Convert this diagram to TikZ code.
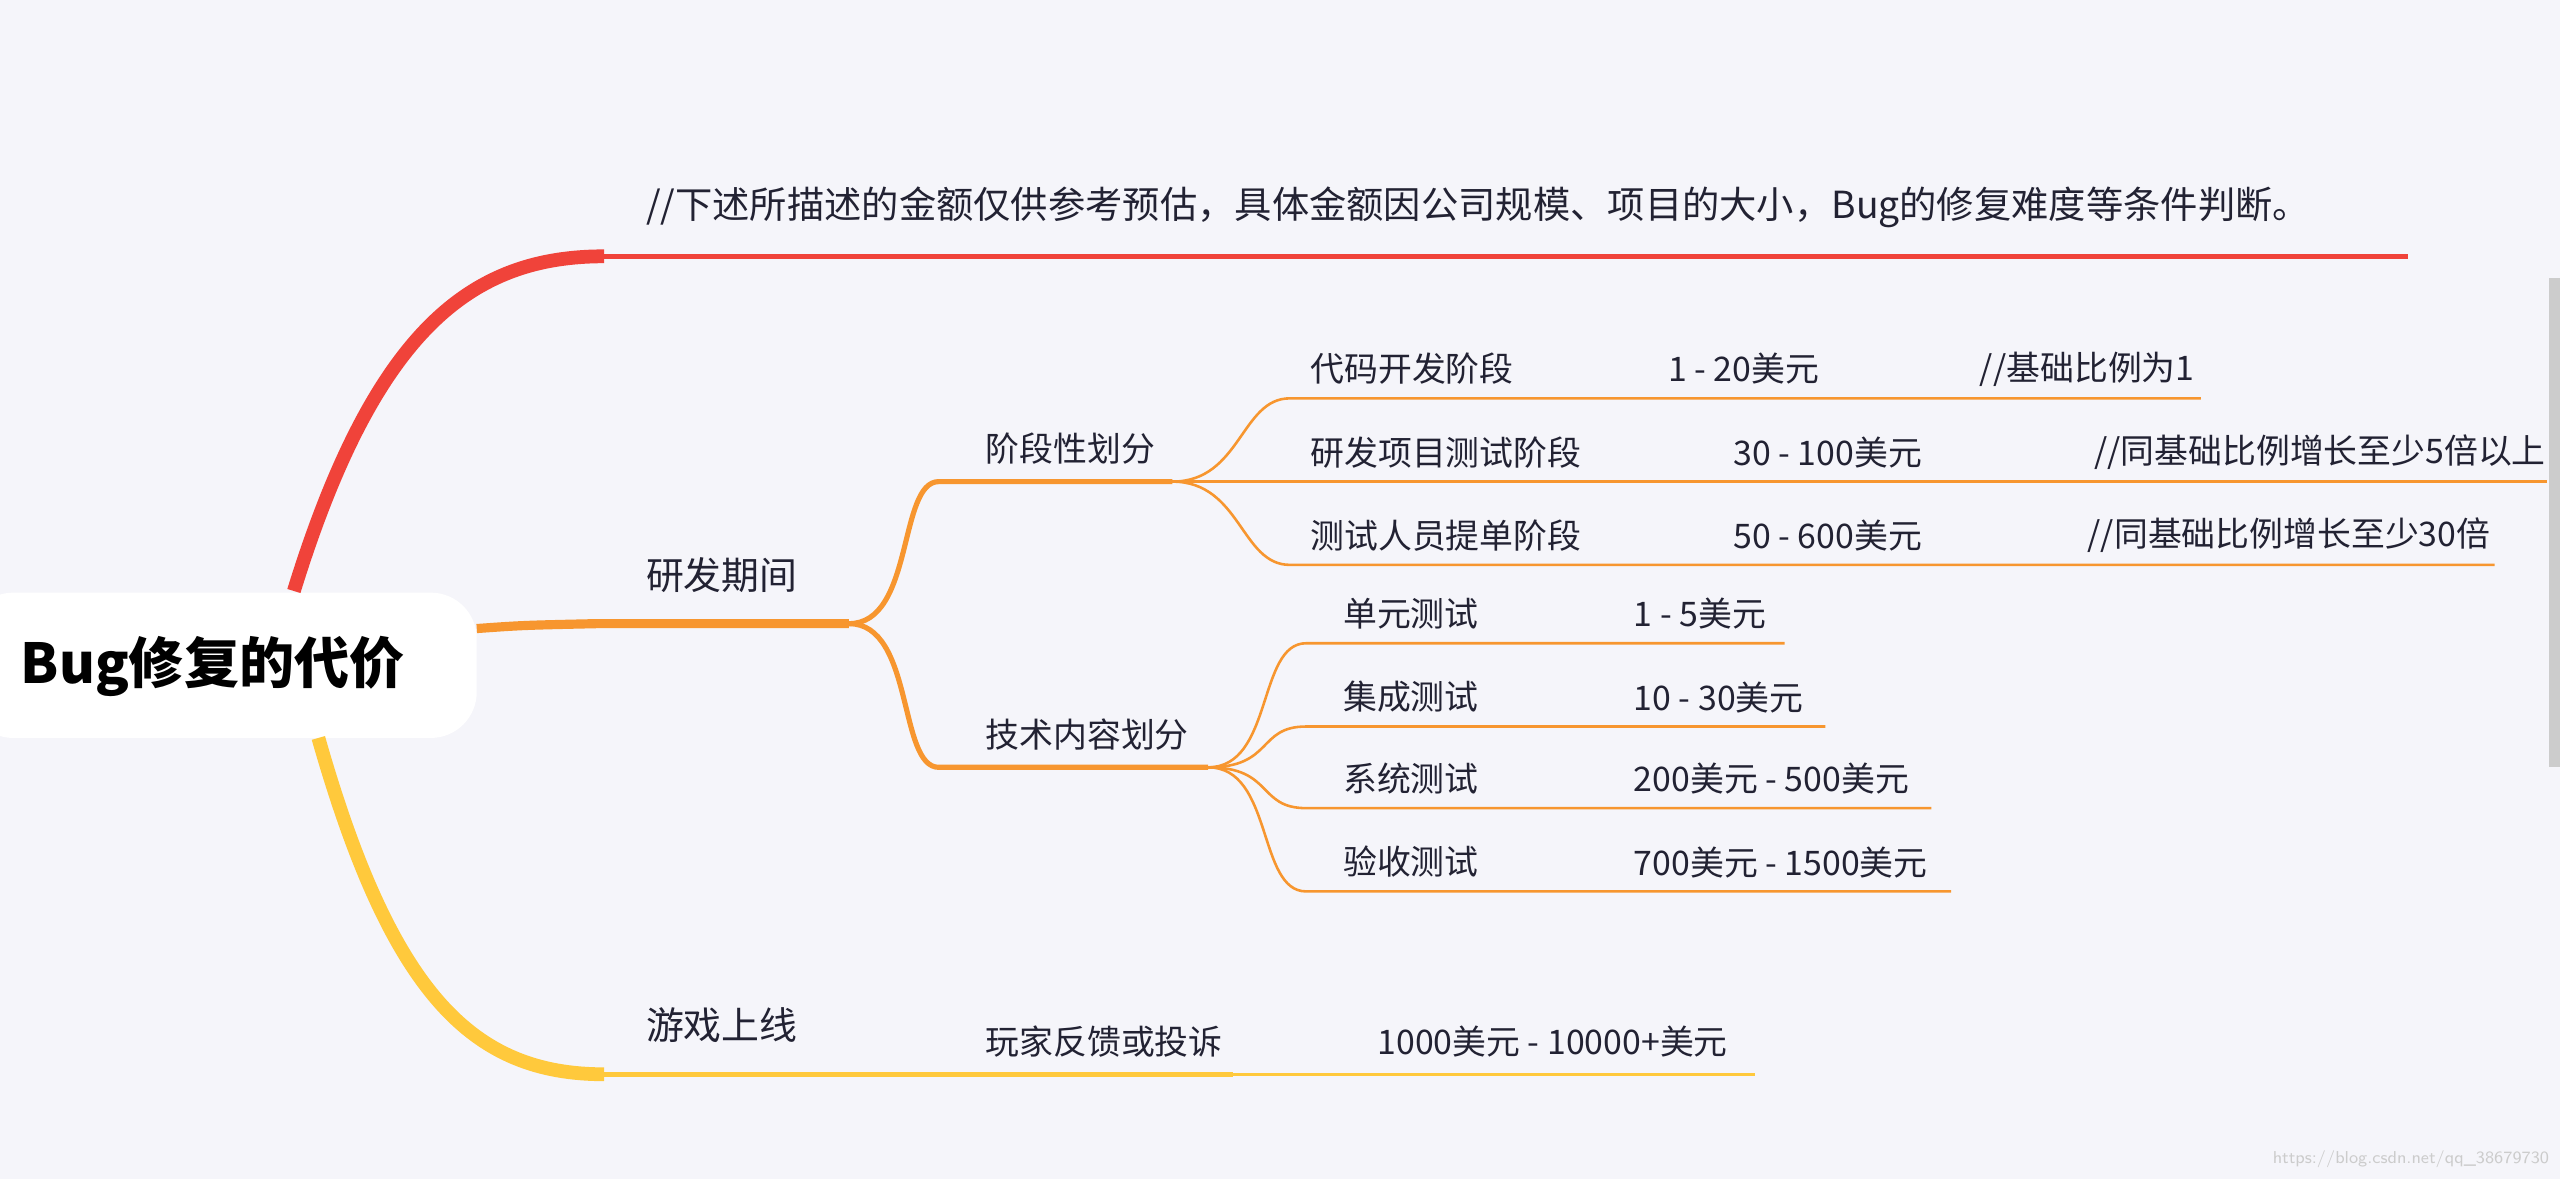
\documentclass[tikz,border=0pt]{standalone}
\usepackage{fontspec}
\newfontfamily\cjk{Noto Sans CJK SC}
\definecolor{bg}{HTML}{F5F5FA}
\definecolor{cred}{HTML}{F0433A}
\definecolor{corg}{HTML}{F7962F}
\definecolor{cyel}{HTML}{FFC93C}
\definecolor{ctxt}{HTML}{222233}
\tikzset{
 lbl/.style={anchor=west,inner sep=0,text=ctxt,font=\cjk\fontsize{5.9}{7}\selectfont},
 big/.style={anchor=west,inner sep=0,text=ctxt,font=\cjk\fontsize{6.6}{8}\selectfont},
 thin/.style={corg,line width=0.45pt},
}
\begin{document}
\begin{tikzpicture}[x=0.1mm,y=-0.1mm]
\fill[bg] (0,0) rectangle (1568,722);
\useasboundingbox (0,0) rectangle (1568,722);
% root
\fill[white,rounded corners=8] (-20,363) rectangle (292,452);
\node[anchor=west,inner sep=0,font=\cjk\bfseries\fontsize{9.6}{12}\selectfont] (root) at (12,408) {Bug修复的代价};
% red
\coordinate (r0) at (180,362); \coordinate (r1) at (370,157); \coordinate (r2) at (1475,157);
\draw[cred,line width=2.4pt] (r0) .. controls (230,200) and (290,157) .. (r1);
\draw[cred,line width=0.9pt] (r1) -- (r2);
\node[big,font=\cjk\fontsize{6.5}{8}\selectfont] (note) at (395,127) {//下述所描述的金额仅供参考预估，具体金额因公司规模、项目的大小，Bug的修复难度等条件判断。};
% orange
\coordinate (o0) at (292,385); \coordinate (o1) at (365,382); \coordinate (o2) at (520,382);
\draw[corg,line width=1.6pt] (o0) .. controls (320,383) .. (o1) -- (o2);
\node[big] (dev) at (395,352) {研发期间};
% yellow
\coordinate (y0) at (195,452); \coordinate (y1) at (370,658); \coordinate (y2) at (755,658); \coordinate (y3) at (1075,658);
\draw[cyel,line width=2.4pt] (y0) .. controls (240,610) and (290,658) .. (y1);
\draw[cyel,line width=0.9pt] (y1) -- (y2);
\draw[cyel,line width=0.45pt] (y2) -- (y3);
\node[big] (game) at (395,628) {游戏上线};
\node[lbl] (player) at (603,638) {玩家反馈或投诉};
\node[lbl] (pc) at (843,638) {1000美元 - 10000+美元};
% second level
\coordinate (a1) at (575,295); \coordinate (a2) at (718,295);
\coordinate (b1) at (575,470); \coordinate (b2) at (740,470);
\draw[corg,line width=0.9pt] (o2) .. controls (560,382) and (550,295) .. (a1) -- (a2);
\draw[corg,line width=0.9pt] (o2) .. controls (560,382) and (550,470) .. (b1) -- (b2);
\node[lbl] (stage) at (603,275) {阶段性划分};
\node[lbl] (tech) at (603,450) {技术内容划分};
% stage children
\foreach \y/\e/\t/\xa/\a/\xc/\c [count=\i] in {
 244/1348/代码开发阶段/1021/1 - 20美元/1212/{//基础比例为1},
 295/1560/研发项目测试阶段/1061/30 - 100美元/1282/{//同基础比例增长至少5倍以上},
 346/1528/测试人员提单阶段/1061/50 - 600美元/1278/{//同基础比例增长至少30倍}}{
 \coordinate (s\i a) at (790,\y); \coordinate (s\i b) at (\e,\y);
 \draw[thin] (a2) .. controls (760,295) and (760,\y) .. (s\i a) -- (s\i b);
 \node[lbl] (st\i) at (802,\y-18) {\t};
 \node[lbl] (sa\i) at (\xa,\y-18) {\a};
 \node[lbl] (sc\i) at (\xc,\y-18) {\c};
}
% tech children
\foreach \y/\e/\t/\a [count=\i] in {
 394/1093/单元测试/1 - 5美元,
 445/1118/集成测试/10 - 30美元,
 495/1183/系统测试/200美元 - 500美元,
 546/1195/验收测试/700美元 - 1500美元}{
 \coordinate (t\i a) at (800,\y); \coordinate (t\i b) at (\e,\y);
 \draw[thin] (b2) .. controls (780,470) and (770,\y) .. (t\i a) -- (t\i b);
 \node[lbl] (tt\i) at (822,\y-18) {\t};
 \node[lbl] (ta\i) at (1000,\y-18) {\a};
}
\fill[gray!40] (1561,170) rectangle (1568,470);
\node[anchor=east,inner sep=0,text=gray!40,font=\sffamily\fontsize{3}{4}\selectfont] (wm) at (1562,710) {https://blog.csdn.net/qq\_38679730};
\end{tikzpicture}
\end{document}
